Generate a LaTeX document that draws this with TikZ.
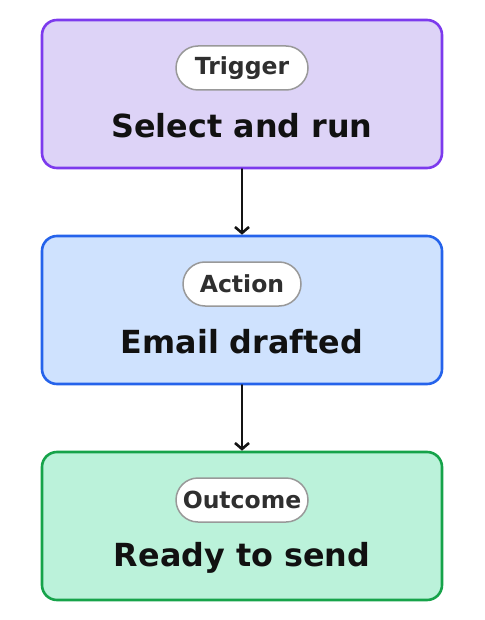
\documentclass[tikz,border=0pt]{standalone}
\usepackage{fontspec}
\setmainfont{DejaVu Sans}
\usepackage{xcolor}
\usetikzlibrary{arrows.meta}

\definecolor{trigfill}{HTML}{DDD3F7}
\definecolor{trigline}{HTML}{7C3AED}
\definecolor{actfill}{HTML}{CFE2FE}
\definecolor{actline}{HTML}{2563EB}
\definecolor{outfill}{HTML}{BBF2DA}
\definecolor{outline}{HTML}{16A34A}
\definecolor{pillline}{HTML}{999999}
\definecolor{pilltext}{HTML}{2F2F2F}
\definecolor{titletext}{HTML}{111111}

\tikzset{
  stage/.style={draw,line width=2.6pt,rounded corners=15pt,minimum width=400pt,minimum height=148pt,inner sep=0pt},
  pill/.style={draw=pillline,fill=white,line width=1.5pt,rounded corners=22pt,minimum height=44pt,inner sep=0pt,
    text=pilltext,font=\fontsize{23.5}{28}\selectfont\bfseries},
  title/.style={text=titletext,inner sep=0pt,font=\fontsize{31.8}{38}\selectfont\bfseries},
  flow/.style={->,line width=2.6pt,draw=black!92}
}

\begin{document}
\begin{tikzpicture}[line cap=round,line join=round,x=1pt,y=-1pt,>={Straight Barb[length=6pt,width=14pt]}]
\useasboundingbox (0,0) rectangle (484,620);
\node [stage,fill=trigfill,draw=trigline] (trig) at (242,94) {};
\node [stage,fill=actfill,draw=actline] (act) at (242,310) {};
\node [stage,fill=outfill,draw=outline] (out) at (242,526) {};
% tags
\node [pill,minimum width=132pt] (trigtag) at (242,68) {Trigger};
\node [pill,minimum width=118pt] (acttag) at (242,284) {Action};
\node [pill,minimum width=132pt] (outtag) at (242,500) {Outcome};
% titles
\node [title] (trigtitle) at (242,126) {Select and run};
\node [title] (acttitle) at (242,342) {Email drafted};
\node [title] (outtitle) at (242,558) {Ready to send};
% links
\draw [flow] (trig.south) -- (act.north);
\draw [flow] (act.south) -- (out.north);
\end{tikzpicture}
\end{document}
